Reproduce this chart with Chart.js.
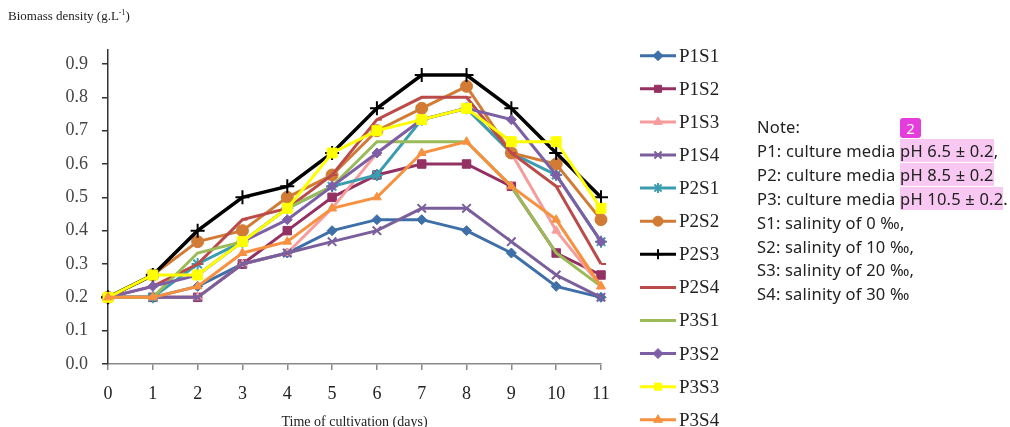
<!DOCTYPE html>
<html>
<head>
<meta charset="utf-8">
<script src="https://cdn.jsdelivr.net/npm/chart.js"></script>
<style>
  body { margin: 0; background: #fff; }
  #wrap { position: relative; width: 1010px; height: 427px; overflow: hidden; }
  #ytitle { position: absolute; left: 8px; top: 8px; font: 13px "Liberation Serif", serif; color: #222; }
  #ytitle sup { font-size: 8px; }
  #note { position: absolute; left: 757px; top: 115px; font: 16.5px "Noto Sans", sans-serif; letter-spacing: 0.2px; color: #222; line-height: 23.9px; white-space: nowrap; }
  .hl { background: #f8c8f2; }
  #badge { position: absolute; left: 900px; top: 118px; width: 21px; height: 20px; background: #e53ddb; color: #fff;
           border-radius: 3px; font: 15px "Noto Sans", sans-serif; text-align: center; line-height: 20px; }
</style>
</head>
<body>
<div id="wrap">
  <canvas id="chart" width="1010" height="427"></canvas>
  <div id="ytitle">Biomass density (g.L<sup>-1</sup>)</div>
  <div id="note">
    Note:<br>
    P1: culture media <span class="hl">pH 6.5 ± 0.2</span>,<br>
    P2: culture media <span class="hl">pH 8.5 ± 0.2</span><br>
    P3: culture media <span class="hl">pH 10.5 ± 0.2</span>.<br>
    S1: salinity of 0 ‰,<br>
    S2: salinity of 10 ‰,<br>
    S3: salinity of 20 ‰,<br>
    S4: salinity of 30 ‰
  </div>
  <div id="badge">2</div>
</div>
<script>
// data
const days = [0, 1, 2, 3, 4, 5, 6, 7, 8, 9, 10, 11];
const seriesNames = ["P1S1", "P1S2", "P1S3", "P1S4", "P2S1", "P2S2", "P2S3", "P2S4", "P3S1", "P3S2", "P3S3", "P3S4"];

const p1s1 = [0.2, 0.2, 0.233, 0.3, 0.333, 0.4, 0.433, 0.433, 0.4, 0.333, 0.233, 0.2];
const p1s2 = [0.2, 0.2, 0.2, 0.3, 0.4, 0.5, 0.567, 0.6, 0.6, 0.533, 0.333, 0.267];
const p1s3 = [0.2, 0.2, 0.2, 0.3, 0.333, 0.467, 0.633, 0.733, 0.767, 0.633, 0.4, 0.233];
const p1s4 = [0.2, 0.2, 0.2, 0.3, 0.333, 0.367, 0.4, 0.467, 0.467, 0.367, 0.267, 0.2];
const p2s1 = [0.2, 0.2, 0.3, 0.367, 0.467, 0.533, 0.567, 0.733, 0.767, 0.633, 0.567, 0.367];
const p2s2 = [0.2, 0.267, 0.367, 0.4, 0.5, 0.567, 0.7, 0.767, 0.833, 0.633, 0.6, 0.433];
const p2s3 = [0.2, 0.267, 0.4, 0.5, 0.533, 0.633, 0.767, 0.867, 0.867, 0.767, 0.633, 0.5];
const p2s4 = [0.2, 0.233, 0.3, 0.433, 0.467, 0.567, 0.733, 0.8, 0.8, 0.633, 0.533, 0.3];
const p3s1 = [0.2, 0.2, 0.333, 0.367, 0.467, 0.533, 0.667, 0.667, 0.667, 0.533, 0.333, 0.233];
const p3s2 = [0.2, 0.233, 0.267, 0.367, 0.433, 0.533, 0.633, 0.733, 0.767, 0.733, 0.567, 0.367];
const p3s3 = [0.2, 0.267, 0.267, 0.367, 0.467, 0.633, 0.7, 0.733, 0.767, 0.667, 0.667, 0.467];
const p3s4 = [0.2, 0.2, 0.233, 0.333, 0.367, 0.467, 0.5, 0.633, 0.667, 0.533, 0.433, 0.233];

const allValues = [p1s1, p1s2, p1s3, p1s4, p2s1, p2s2, p2s3, p2s4, p3s1, p3s2, p3s3, p3s4];

// look of each series
const colors = ["#3f6fa8", "#943163", "#f79c9c", "#7a5f9c", "#3a9db0", "#d27b35",
                "#000000", "#bb4b48", "#9bbb59", "#7d5fa6", "#ffff00", "#f7913f"];
const markers = ["rectRot", "rect", "triangle", "crossRot", "star", "circle",
                 "cross", "dash", "circle", "rectRot", "rect", "triangle"];
const markerSize = [5, 6, 5, 6, 6, 6, 7, 5, 0, 5, 7, 5];

const datasets = seriesNames.map((name, i) => ({
    label: name,
    data: allValues[i],
    borderColor: colors[i],
    backgroundColor: colors[i],
    pointBackgroundColor: colors[i],
    pointBorderColor: colors[i],
    borderWidth: i === 6 ? 3.5 : 3,
    pointStyle: markers[i],
    pointRadius: markerSize[i],
    pointBorderWidth: (markers[i] === "cross" || markers[i] === "crossRot" || markers[i] === "star" || markers[i] === "dash") ? 2 : 1,
    tension: 0,
    order: seriesNames.length - i
}));

const serif = "'Liberation Serif', 'Times New Roman', serif";

const legendPlugin = {
    id: 'sideLegend',
    afterDraw(chart) {
        const ctx = chart.ctx;
        ctx.save();
        chart.data.datasets.forEach((ds, i) => {
            const y = 55.7 + i * 33.1;
            ctx.strokeStyle = ds.borderColor;
            ctx.lineWidth = 3;
            ctx.beginPath();
            ctx.moveTo(640, y);
            ctx.lineTo(676, y);
            ctx.stroke();
            if (ds.pointRadius > 0) {
                ctx.fillStyle = ds.pointBackgroundColor;
                ctx.strokeStyle = ds.pointBorderColor;
                ctx.lineWidth = ds.pointBorderWidth;
                Chart.helpers.drawPoint(ctx, {
                    pointStyle: ds.pointStyle,
                    radius: Math.min(ds.pointRadius, 5),
                    rotation: 0,
                    borderWidth: ds.pointBorderWidth
                }, 658, y);
            }
            ctx.fillStyle = "#222";
            ctx.font = "19px " + serif;
            ctx.textBaseline = "middle";
            ctx.textAlign = "left";
            ctx.fillText(ds.label, 679, y + 1);
        });
        ctx.restore();
    }
};

new Chart(document.getElementById('chart').getContext('2d'), {
    type: 'line',
    data: { labels: days, datasets: datasets },
    options: {
        responsive: false,
        animation: false,
        layout: { padding: { left: 8, right: 409, top: 50, bottom: -4 } },
        plugins: { legend: { display: false }, tooltip: { enabled: false } },
        scales: {
            x: {
                offset: false,
                grid: { display: true, drawOnChartArea: false, drawTicks: true, tickLength: 6, color: '#888', lineWidth: 1.5 },
                border: { display: true, color: '#888', width: 1.5 },
                ticks: { color: '#222', font: { family: serif, size: 18 }, padding: 13, maxRotation: 0, autoSkip: false },
                title: { display: true, text: 'Time of cultivation (days)', color: '#222', font: { family: serif, size: 14 }, padding: { top: 4, bottom: 0 } },
                afterFit(scale) { scale.height = 67; }
            },
            y: {
                min: 0,
                max: 0.942,
                grid: { display: true, drawOnChartArea: false, drawTicks: true, tickLength: 6, color: '#333', lineWidth: 1.5 },
                border: { display: true, color: '#333', width: 1.5 },
                ticks: { stepSize: 0.1, includeBounds: false, color: '#444', padding: 14,
                         font: { family: serif, size: 18 },
                         callback: v => v.toFixed(1) },
                afterFit(scale) { scale.width = 100; }
            }
        }
    },
    plugins: [legendPlugin]
});
</script>
</body>
</html>
